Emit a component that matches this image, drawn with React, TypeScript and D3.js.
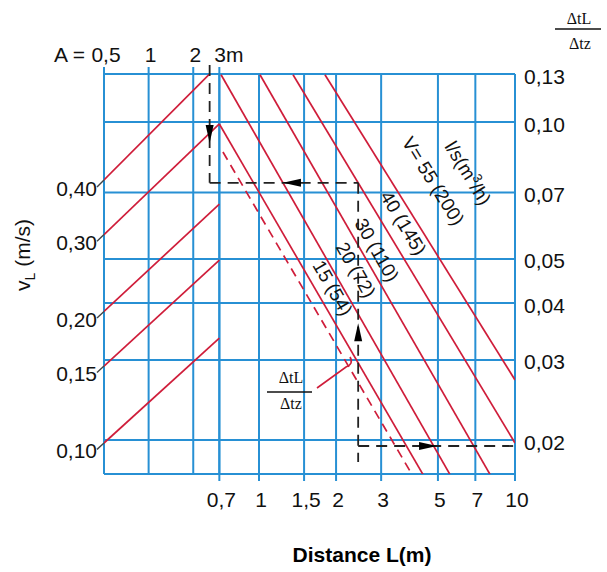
import React from 'react';
import * as d3 from 'd3';

// bottom axis: distance L (m), log
const lTicks = [0.7, 1, 1.5, 2, 3, 5, 7, 10];
const lTickLabels = ['0,7', '1', '1,5', '2', '3', '5', '7', '10'];
// top axis: A (m), log
const aTicks = [0.5, 1, 2, 3];
const aTickLabels = ['0,5', '1', '2', '3'];
// right axis: ΔtL/Δtz, log
const ratioTicks = [0.13, 0.1, 0.07, 0.05, 0.04, 0.03, 0.02];
const ratioTickLabels = ['0,13', '0,10', '0,07', '0,05', '0,04', '0,03', '0,02'];
// left axis: vL (m/s)
const vTicks = [0.4, 0.3, 0.2, 0.15, 0.1];
const vTickLabels = ['0,40', '0,30', '0,20', '0,15', '0,10'];
// ratio reached by each velocity line at A = 3 m
const vLineEnd = [0.134, 0.099, 0.066, 0.0497, 0.0335];

// flow lines V l/s (m3/h): [L, ratio] start and end
const flowLabels = ['15 (54)', '20 (72)', '30 (110)', '40 (145)', 'V= 55 (200)'];
const flowStart = [[0.7, 0.099], [0.711, 0.127], [1.009, 0.127], [1.358, 0.127], [1.81, 0.127]];
const flowEnd = [[4.37, 0.0168], [5.57, 0.0168], [7.99, 0.0168], [10, 0.0197], [10, 0.0271]];
const dashedFlow = [[0.723, 0.0859], [3.96, 0.0168]];

// worked example
const exampleA = 2.58;
const exampleRatio1 = 0.0735;
const exampleL = 2.44;
const exampleRatio2 = 0.0194;

const BLUE = '#2790d4';
const RED = '#cf1d3a';
const INK = '#222';
const SANS = '"Liberation Sans", Arial, sans-serif';
const SERIF = '"Liberation Serif", "Times New Roman", serif';

function arrow(x: number, y: number, dir: string) {
  const len = 18, hw = 4;
  if (dir === 'down') return `M${x},${y} L${x - hw},${y - len} L${x + hw},${y - len} Z`;
  if (dir === 'up') return `M${x},${y} L${x - hw},${y + len} L${x + hw},${y + len} Z`;
  if (dir === 'left') return `M${x},${y} L${x + len},${y - hw} L${x + len},${y + hw} Z`;
  return `M${x},${y} L${x - len},${y - hw} L${x - len},${y + hw} Z`;
}

export default function App() {
  const W = 607, H = 572;
  const top = 74, bottom = 474;
  const xL = d3.scaleLog().domain([1, 10]).range([259, 515]);
  const left = 104, right = xL(10);
  const xA = d3.scaleLog().domain([0.5, 3]).range([left, xL(0.7)]);
  const yR = d3.scaleLog().domain([0.1, 0.02]).range([122, 440]);
  const yV = d3.scaleLog().domain([0.1, 0.4]).range([443, 180]);

  const line = d3.line<[number, number]>();
  const fs = 21;

  // label placement along the flow lines (pixel y, horizontal offset)
  const labelY = [288, 270, 250, 223, 181];
  const labelDx = [18, 23, 16, 21, 42];

  const flows = flowStart.map((s, i) => {
    const p0: [number, number] = [xL(s[0]), yR(s[1])];
    const p1: [number, number] = [xL(flowEnd[i][0]), yR(flowEnd[i][1])];
    const ang = (Math.atan2(p1[1] - p0[1], p1[0] - p0[0]) * 180) / Math.PI;
    const t = (labelY[i] - p0[1]) / (p1[1] - p0[1]);
    const lx = p0[0] + t * (p1[0] - p0[0]) + labelDx[i];
    return { p0, p1, ang, lx, ly: labelY[i], label: flowLabels[i] };
  });
  const vAng = flows[4].ang;

  const exX1 = xA(exampleA);
  const exY1 = yR(exampleRatio1);
  const exX2 = xL(exampleL);
  const exY2 = yR(exampleRatio2);

  return (
    <svg width={W} height={H} style={{ position: 'absolute', left: 0, top: 0, background: '#fff' }}>
      <defs>
        <clipPath id="plot">
          <rect x={left} y={top} width={right - left} height={bottom - top} />
        </clipPath>
      </defs>

      {/* grid */}
      <g stroke={BLUE} strokeWidth={2} fill="none">
        {aTicks.map((a) => (
          <line key={'a' + a} x1={xA(a)} x2={xA(a)} y1={top - 7} y2={bottom} />
        ))}
        {lTicks.map((l) => (
          <line key={'l' + l} x1={xL(l)} x2={xL(l)} y1={top} y2={bottom + 7} />
        ))}
        {ratioTicks.slice(1).map((r) => (
          <line key={'r' + r} x1={left} x2={right} y1={yR(r)} y2={yR(r)} />
        ))}
        <line x1={left} x2={right} y1={top} y2={top} />
        <line x1={left} x2={right} y1={bottom} y2={bottom} />
      </g>

      {/* velocity and flow lines */}
      <g clipPath="url(#plot)" stroke={RED} strokeWidth={1.7} fill="none">
        {vTicks.map((v, i) => (
          <path key={'v' + v} d={line([[left, yV(v)], [xA(3), yR(vLineEnd[i])]]) || ''} />
        ))}
        {flows.map((f, i) => (
          <path key={'f' + i} d={line([f.p0, f.p1]) || ''} />
        ))}
        <path
          d={line([[xL(dashedFlow[0][0]), yR(dashedFlow[0][1])], [xL(dashedFlow[1][0]), yR(dashedFlow[1][1])]]) || ''}
          strokeDasharray="9,6"
        />
      </g>

      {/* left stubs + labels */}
      {vTicks.map((v, i) => {
        const y0 = yV(v);
        const slope = (yR(vLineEnd[i]) - y0) / (xA(3) - left);
        const sx = left - 7;
        const sy = y0 - slope * 7;
        return (
          <g key={'vl' + v}>
            <line x1={sx} y1={sy} x2={left} y2={y0} stroke="#444" strokeWidth={1.4} />
            <text x={sx} y={sy + 1} textAnchor="end" dominantBaseline="central" fontFamily={SANS} fontSize={fs} fill="#111">
              {vTickLabels[i]}
            </text>
          </g>
        );
      })}

      {/* worked example */}
      <g stroke={INK} strokeWidth={1.8} strokeDasharray="11,7" fill="none">
        <line x1={exX1} x2={exX1} y1={top - 9} y2={exY1} />
        <line x1={exX1} x2={exX2} y1={exY1} y2={exY1} />
        <line x1={exX2} x2={exX2} y1={exY1} y2={exY2 + 16} />
        <line x1={exX2} x2={right} y1={exY2} y2={exY2} />
      </g>
      <g fill="#000">
        <path d={arrow(exX1, yR(0.0899), 'down')} />
        <path d={arrow(xL(1.24), exY1, 'left')} />
        <path d={arrow(exX2, yR(0.0361), 'up')} />
        <path d={arrow(xL(4.96), exY2, 'right')} />
      </g>

      {/* flow labels */}
      {flows.map((f, i) => (
        <text
          key={'fl' + i}
          transform={`translate(${f.lx},${f.ly}) rotate(${f.ang})`}
          textAnchor="middle"
          dominantBaseline="central"
          fontFamily={SANS}
          fontSize={19}
          fill="#111"
        >
          {f.label}
        </text>
      ))}
      <text
        transform={`translate(${flows[4].lx + 35},${flows[4].ly - 8}) rotate(${vAng})`}
        textAnchor="middle"
        dominantBaseline="central"
        fontFamily={SANS}
        fontSize={19}
        fill="#111"
      >
        l/s(m<tspan dy={-6} fontSize={13}>3</tspan>
        <tspan dy={6}>/h)</tspan>
      </text>

      {/* top axis A */}
      <text x={xA(0.5) - 19} y={62} textAnchor="end" fontFamily={SANS} fontSize={fs} fill="#111">
        A =
      </text>
      {aTicks.map((a, i) => (
        <text
          key={'at' + a}
          x={i === 3 ? xA(a) - 5 : xA(a) + 2}
          y={62}
          textAnchor={i === 3 ? 'start' : 'middle'}
          fontFamily={SANS}
          fontSize={fs}
          fill="#111"
        >
          {aTickLabels[i] + (i === 3 ? 'm' : '')}
        </text>
      ))}

      {/* bottom axis L */}
      {lTicks.map((l, i) => (
        <text key={'lt' + l} x={xL(l) + 2} y={507} textAnchor="middle" fontFamily={SANS} fontSize={fs} fill="#111">
          {lTickLabels[i]}
        </text>
      ))}
      <text x={362} y={562} textAnchor="middle" fontFamily={SANS} fontSize={21} fontWeight="bold" fill="#000">
        Distance L(m)
      </text>

      {/* right axis ratio */}
      {ratioTicks.map((r, i) => (
        <text
          key={'rt' + r}
          x={right + 9}
          y={Math.max(yR(r), top) + 2}
          dominantBaseline="central"
          fontFamily={SANS}
          fontSize={fs}
          fill="#111"
        >
          {ratioTickLabels[i]}
        </text>
      ))}
      <g fontFamily={SERIF} fontSize={16} fill="#111" textAnchor="middle">
        <text x={579} y={24}>ΔtL</text>
        <line x1={555} x2={601} y1={29} y2={29} stroke="#111" strokeWidth={1.3} />
        <text x={580} y={49}>Δtz</text>
      </g>

      {/* left axis title */}
      <text transform="translate(30,255) rotate(-90)" textAnchor="middle" fontFamily={SANS} fontSize={21} fill="#111">
        v<tspan dy={5} fontSize={14}>L</tspan>
        <tspan dy={-5}> (m/s)</tspan>
      </text>

      {/* in-plot callout */}
      <g fontFamily={SERIF} fontSize={16} fill="#111" textAnchor="middle">
        <text x={291} y={383}>ΔtL</text>
        <line x1={267} x2={312} y1={392} y2={392} stroke="#111" strokeWidth={1.3} />
        <text x={291} y={409}>Δtz</text>
      </g>
      <path d="M317,388 L346,367 Q354,364 350,357" stroke={RED} strokeWidth={1.6} fill="none" />
    </svg>
  );
}
